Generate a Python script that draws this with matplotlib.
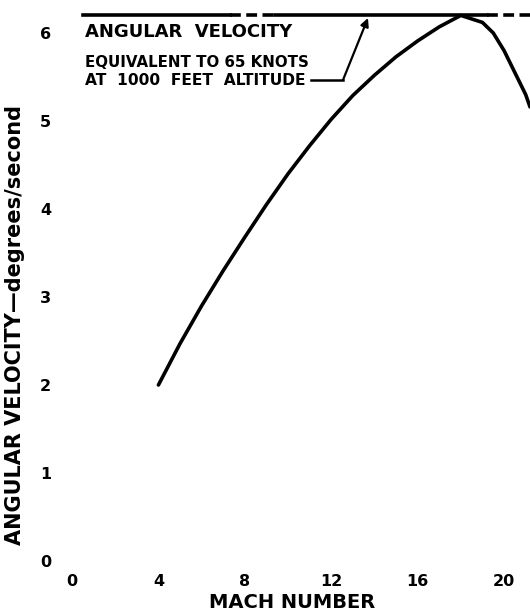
import matplotlib
matplotlib.use("Agg")
import matplotlib.pyplot as plt

# Data
mach = [4, 5, 6, 7, 8, 9, 10, 11, 12, 13, 14, 15, 16, 17, 18, 19, 19.5, 20, 20.5, 21, 21.2]
velocity = [2.0, 2.47, 2.9, 3.3, 3.68, 4.05, 4.4, 4.72, 5.02, 5.29, 5.52, 5.73, 5.91,
            6.07, 6.2, 6.12, 6.0, 5.8, 5.55, 5.3, 5.16]
limit_value = 6.2
x_ticks = [0, 4, 8, 12, 16, 20]
x_tick_labels = ["0", "4", "8", "12", "16", "20"]
y_ticks = [0, 1, 2, 3, 4, 5, 6]
y_tick_labels = ["0", "1", "2", "3", "4", "5", "6"]
note_lines = ["ANGULAR  VELOCITY", "EQUIVALENT TO 65 KNOTS", "AT  1000  FEET  ALTITUDE"]

plt.rcParams['font.family'] = ['DejaVu Sans']
plt.rcParams['font.weight'] = 'bold'

fig = plt.figure(figsize=(5.3, 6.13), dpi=100)
ax = fig.add_axes([72 / 530, 52 / 613, 1 - 72 / 530, 561 / 613])
ax.set_xlim(0, 21.2)
ax.set_ylim(0, 6.375)

for s in ax.spines.values():
    s.set_visible(False)

ax.plot(mach, velocity, color="black", lw=2.6, solid_capstyle="round", solid_joinstyle="round")

# reference line at 6.2 (solid with dashed parts)
ax.plot([0.5, 7.3], [limit_value, limit_value], color="black", lw=2.6)
ax.plot([7.3, 9.4], [limit_value, limit_value], color="black", lw=2.6, ls=(0, (3, 1.5)))
ax.plot([9.4, 19.2], [limit_value, limit_value], color="black", lw=2.6)
ax.plot([19.2, 21.2], [limit_value, limit_value], color="black", lw=2.6, ls=(0, (3, 1.5)))

# annotation
ax.text(0.6, 6.01, note_lines[0], fontsize=13, fontweight="heavy", va="center", ha="left")
ax.text(0.6, 5.67, note_lines[1], fontsize=10.8, fontweight="heavy", va="center", ha="left")
ax.text(0.6, 5.46, note_lines[2], fontsize=11.2, fontweight="heavy", va="center", ha="left")
ax.plot([11.05, 12.55], [5.47, 5.47], color="black", lw=1.8)
ax.annotate("", xy=(13.7, 6.17), xytext=(12.55, 5.47),
            arrowprops=dict(arrowstyle="-|>", color="black", lw=1.6,
                            mutation_scale=12, shrinkA=0, shrinkB=0))

ax.set_xticks(x_ticks)
ax.set_xticklabels(x_tick_labels)
ax.set_yticks(y_ticks)
ax.set_yticklabels(y_tick_labels)
ax.tick_params(axis="both", length=0, labelsize=11.5)
ax.tick_params(axis="x", pad=9)
ax.tick_params(axis="y", pad=15)
for lab in ax.get_xticklabels() + ax.get_yticklabels():
    lab.set_fontweight("heavy")

fig.text(292 / 530, 1 - 602 / 613, "MACH NUMBER", fontsize=14, fontweight="heavy",
         ha="center", va="center")
fig.text(15 / 530, 1 - 325 / 613, "ANGULAR VELOCITY\u2014degrees/second", fontsize=15,
         fontweight="heavy", ha="center", va="center", rotation=90)

fig.savefig("out.png", dpi=100)
